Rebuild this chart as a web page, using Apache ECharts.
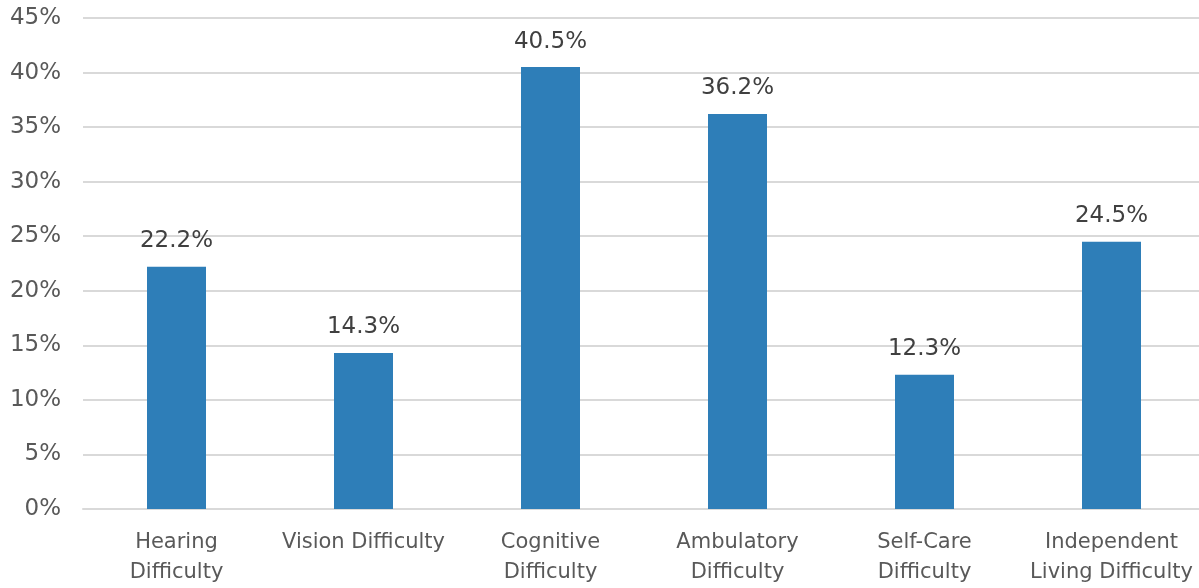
<!DOCTYPE html>
<html>
<head>
<meta charset="utf-8">
<script src="https://cdn.jsdelivr.net/npm/echarts@6/dist/echarts.min.js"></script>
<style>
html,body{margin:0;padding:0;background:#fff;overflow:hidden;}
#c{width:1205px;height:588px;}
</style>
</head>
<body>
<div id="c"></div>
<script>
const categories = ["Hearing\nDifficulty", "Vision Difficulty", "Cognitive\nDifficulty", "Ambulatory\nDifficulty", "Self-Care\nDifficulty", "Independent\nLiving Difficulty"];
const values = [22.2, 14.3, 40.5, 36.2, 12.3, 24.5];
const yTicks = { min: 0, max: 45, interval: 5 };

const FONT = "DejaVu Sans";
const chart = echarts.init(document.getElementById('c'));
chart.setOption({
  animation: false,
  grid: { left: 83, right: 0, top: 18, bottom: 78, containLabel: false },
  xAxis: {
    type: 'category',
    data: categories,
    axisLine: { show: true, lineStyle: { color: '#d9d9d9', width: 2 } },
    axisTick: { show: false },
    axisLabel: { color: '#595959', fontFamily: FONT, fontSize: 21, lineHeight: 30, margin: 19, interval: 0 }
  },
  yAxis: {
    type: 'value',
    min: yTicks.min, max: yTicks.max, interval: yTicks.interval,
    axisLine: { show: false },
    axisTick: { show: false },
    splitLine: { lineStyle: { color: '#d9d9d9', width: 2 } },
    axisLabel: { color: '#595959', fontFamily: FONT, fontSize: 23, margin: 22, formatter: v => v + '%' }
  },
  series: [{
    type: 'bar',
    data: values,
    barWidth: 59,
    itemStyle: { color: '#2e7eb8' },
    label: { show: true, position: 'top', distance: 14, color: '#404040', fontFamily: FONT, fontSize: 23, formatter: p => p.value.toFixed(1) + '%' }
  }]
});
</script>
</body>
</html>
